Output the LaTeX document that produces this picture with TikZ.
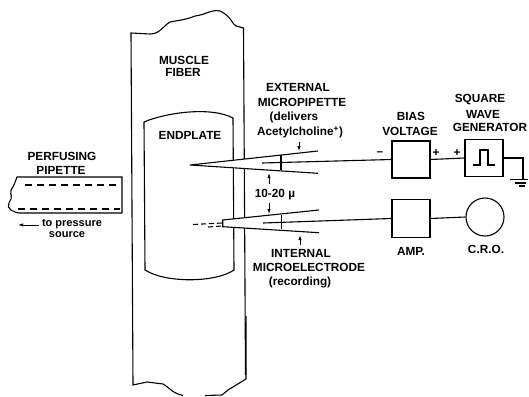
\documentclass[tikz,border=0pt]{standalone}
\usepackage{fontspec}
\setmainfont{Liberation Sans}
\usetikzlibrary{arrows.meta,calc,positioning}
\tikzset{
  lab/.style={font=\fontsize{11.8}{12}\selectfont\bfseries,inner sep=0pt,align=center},
  smalllab/.style={font=\fontsize{11}{12}\selectfont\bfseries,inner sep=0pt,align=center},
  instr/.style={draw,line width=1.1pt,minimum width=38pt,minimum height=37pt,inner sep=0pt},
  wire/.style={line width=1.1pt},
  gap/.style={wire,-{Latex[length=5pt,width=3.5pt]},line width=0.9pt}
}
\begin{document}
\begin{tikzpicture}[x=1pt,y=-1pt]
\useasboundingbox (0,0) rectangle (529,396);
% muscle fiber and endplate outlines, pixel positions of the reference
\draw[wire] (245.5,375) -- (243.5,28) -- (236,26) .. controls (232,24) and (231,16) .. (220,11) .. controls (212,9) and (205,15) .. (195,16) .. controls (185,20) and (180,20) .. (170,22) .. controls (163,26) and (160,34) .. (150,34) -- (131,33) -- (133,385) -- (147,382) -- (163,384) .. controls (170,388) and (172,393) .. (183,395.5);
\draw[wire] (246,316) -- (246,379) -- (228,390) -- (222,395) -- (205,395.5);
\draw[wire] (144,122) .. controls (165,113) and (210,106) .. (233,118) -- (234,270) .. controls (215,283) and (165,283) .. (145,270) -- cycle;
% perfusing pipette
\draw[wire] (122,213) -- (122,177) -- (17,177) [rounded corners=2pt] -- (14,185) -- (10,192) -- (12,197) -- (8,205) -- (9,209) -- (17,213) [sharp corners] -- (122,213);
\foreach \ya/\xa in {185/25,209/18}
  \draw[wire,dash pattern=on 7pt off 5pt] (\xa,\ya) -- (120,\ya);
\node[lab] (perfusing) at (62,156) {PERFUSING};
\node[lab] (pipette) at (61,170) {PIPETTE};
\node[smalllab] (press) at (72,224) {to pressure};
\node[smalllab] (source) at (67,235) {source};
\coordinate (pressend) at (18,225);
\draw[gap] (press.west) ++(-3,1) -- (pressend);
% the two micropipettes
\draw[wire,fill=white] (318,151) coordinate (exttop) -- (190,165) coordinate (exttip) -- (318,173.3) coordinate (extbot);
\draw[wire] (281,155) -- (281,170);
\draw[wire,fill=white] (319,210) coordinate (inttop) -- (222.7,220) -- (222.7,226.7) -- (319,232.7) coordinate (intbot);
\draw[wire] (281.7,215) -- (281.7,229);
\draw[wire,dash pattern=on 5pt off 3pt] (193,224.5) -- (222,223);
\draw[wire,dash pattern=on 5pt off 3pt] (208,227) -- (222,226);
\coordinate (extin) at (262,163);
\coordinate (intin) at (263,223);
% instruments
\node[instr] (bias) at (411,159.5) {};
\node[instr] (squarewave) at (484,158) {};
\node[instr,minimum height=38pt] (amp) at (411,218.5) {};
\node[draw,line width=1.1pt,circle,minimum size=38pt,inner sep=0pt] (cro) at (485,217) {};
\coordinate (gnd) at (523,179);
\draw[wire] (extin) -- (bias.west);
\draw[wire] (bias.east) -- (squarewave.west);
\draw[wire] (squarewave.east) -| (gnd);
\draw[wire] (intin) -- (amp.west);
\draw[wire] (amp.east) -- (cro.west);
\draw[wire] (510,179.5) -- (528,179.5);
\draw[wire] (515,183) -- (526,183);
\draw[wire] (519,186) -- (525,186);
\draw[wire] (473,165) -- (480,165) -- (480,150) -- (488,150) -- (488,165) -- (495,165);
% gap arrows
\draw[gap] (299,142) -- (299,151);
\draw[gap] (269,184) -- (269,173);
\draw[gap] (269,203) -- (269,214);
\draw[gap] (300,245) -- (300,235);
% labels
\foreach \nm/\xa/\ya/\txt in {
  muscle/184/60/MUSCLE, fiber/183/72/FIBER, endplate/190/135/ENDPLATE,
  external/298/87/EXTERNAL, micropip/302/102/MICROPIPETTE,
  internal/301/253/INTERNAL, microel/309/267/MICROELECTRODE,
  biaslab/411/116/BIAS, voltage/410/131/VOLTAGE,
  squarelab/480/100/SQUARE, wavelab/483/114/WAVE, genlab/490/127/GENERATOR,
  amplab/411/251/AMP., crolab/486/249/C.R.O.,
  gaplab/275/195/{10-20 µ}, delivers/294/117/{(delivers},
  acetyl/300/132/{Acetylcholine\textsuperscript{+})}, recording/300/282/{(recording)},
  minus/380/154/{--}, plusa/436/153/{+}, plusb/457/153/{+}}
  \node[lab] (\nm) at (\xa,\ya) {\txt};
\end{tikzpicture}
\end{document}
